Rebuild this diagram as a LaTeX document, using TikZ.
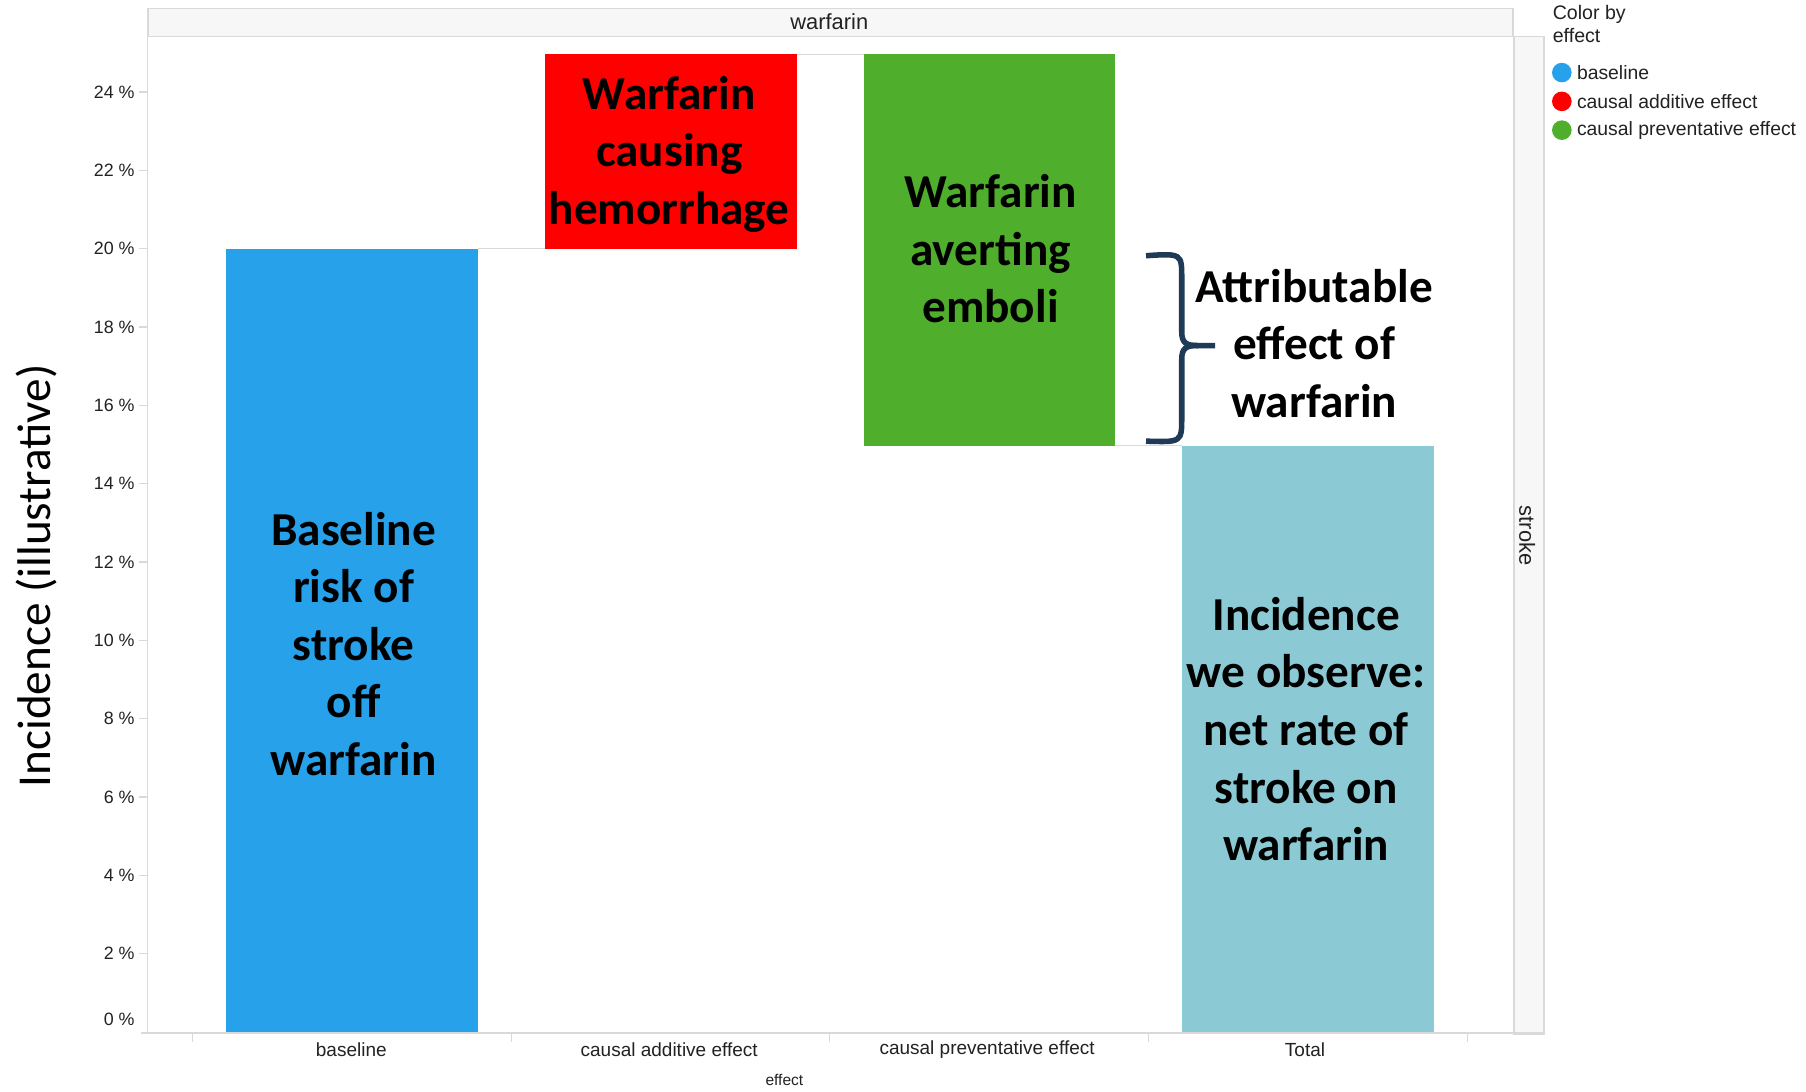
\documentclass[tikz,border=0pt]{standalone}
\usepackage{fontspec}
\setmainfont{Liberation Sans}
\newfontfamily\callabel{Carlito}
\definecolor{cblue}{HTML}{27A1EA}
\definecolor{cred}{HTML}{FF0000}
\definecolor{cgreen}{HTML}{4FAE2B}
\definecolor{cteal}{HTML}{8BCAD5}
\definecolor{cnavy}{HTML}{1F3A56}
\definecolor{cgrid}{HTML}{D9D9D9}
\definecolor{chead}{HTML}{F7F7F7}
\definecolor{ctext}{HTML}{222222}
\begin{document}
\begin{tikzpicture}[x=1pt,y=-1pt,
  bar/.style={draw=none,inner sep=0,outer sep=0,anchor=north west},
  ann/.style={font=\callabel\bfseries\fontsize{41}{50}\selectfont,align=center,text=black,inner sep=0},
  ticklab/.style={font=\fontsize{15.5}{18}\selectfont,text=ctext,anchor=east,inner sep=0},
  catlab/.style={font=\fontsize{16.5}{20}\selectfont,text=ctext,inner sep=0},
  leglab/.style={font=\fontsize{16.8}{20}\selectfont,text=ctext,anchor=west,inner sep=0},
  legdot/.style={circle,inner sep=0,minimum size=17pt},
  axisline/.style={draw=cgrid,line width=1.2pt},
  conn/.style={draw=cgrid,line width=1pt},
  brace/.style={draw=cnavy,line width=4.8pt}
]
\useasboundingbox (0,0) rectangle (1568,948);
\fill[white] (0,0) rectangle (1568,948);

% header and right strip
\node[draw=cgrid,fill=chead,line width=1.2pt,inner sep=0,minimum width=1185pt,minimum height=24pt,anchor=north west] (head) at (128,7) {};
\node[font=\fontsize{19}{22}\selectfont,text=ctext] (headtxt) at (720,19) {warfarin};
\node[draw=cgrid,fill=chead,line width=1.2pt,inner sep=0,minimum width=26pt,minimum height=866pt,anchor=north west] (strip) at (1314,31) {};
\node[font=\fontsize{19}{22}\selectfont,text=ctext,rotate=-90] (striptxt) at (1326,465) {stroke};

% axes
\draw[axisline] (128,31) -- (128,897);
\draw[axisline] (122,897) -- (1340,897);
\foreach \v/\yy in {24/80,22/148,20/216,18/284,16/352,14/420,12/488,10/556,8/624,6/692,4/760,2/828}{
  \draw[axisline] (121,\yy) -- (128,\yy);
  \node[ticklab] at (117,\yy) {\v\ \%};
}
\node[ticklab] (zero) at (117,885) {0 \%};
\foreach \xx in {167,444,720,997,1274}{
  \draw[axisline] (\xx,897) -- (\xx,905);
}

% bars
\node[bar,fill=cblue,minimum width=219pt,minimum height=680pt] (blue) at (196,216) {};
\node[bar,fill=cred,minimum width=219pt,minimum height=169pt] (red) at (473,47) {};
\node[bar,fill=cgreen,minimum width=218pt,minimum height=340pt] (green) at (750,47) {};
\node[bar,fill=cteal,minimum width=219pt,minimum height=509pt] (teal) at (1026,387) {};

% connectors
\draw[conn] (blue.north east) -- (red.south west);
\draw[conn] (red.north east) -- (green.north west);
\draw[conn] (green.south east) -- (teal.north west);

% category labels
\node[catlab] (c1) at (305,911) {baseline};
\node[catlab] (c2) at (581,911) {causal additive effect};
\node[catlab] (c3) at (857,911) {causal preventative effect};
\node[catlab] (c4) at (1133,911) {Total};
\node[font=\fontsize{13.5}{16}\selectfont,text=ctext] (xtitle) at (681,938) {effect};

% y title
\node[font=\callabel\fontsize{41}{48}\selectfont,rotate=90,text=black] (ytitle) at (32,500) {Incidence (illustrative)};

% annotations
\node[ann] (tblue) at (307,559) {Baseline\\risk of\\stroke\\off\\warfarin};
\node[ann] (tred) at (581,134) {Warfarin\\causing\\hemorrhage};
\node[ann] (tgreen) at (860,216) {Warfarin\\averting\\emboli};
\node[ann] (tattr) at (1141,298) {Attributable\\effect of\\warfarin};
\node[ann] (tteal) at (1134,633) {Incidence\\we observe:\\net rate of\\stroke on\\warfarin};

% brace
\coordinate (btop) at (995,222);
\coordinate (btip) at (1055,300);
\coordinate (bbot) at (995,383);
\draw[brace] (btop) .. controls (1026,220) .. (1026,242) -- (1026,288)
  .. controls (1026,298) and (1030,300) .. (1040,300) -- (btip);
\draw[brace] (1040,300) .. controls (1030,300) and (1026,302) .. (1026,312) -- (1026,362)
  .. controls (1026,384) .. (bbot);

% legend
\node[font=\fontsize{17}{20}\selectfont,text=ctext,anchor=north west,align=left,inner sep=0] (legtitle) at (1348,4) {Color by\\effect};
\node[legdot,fill=cblue] (d1) at (1356,63) {};
\node[leglab] (l1) at (1369,63) {baseline};
\node[legdot,fill=cred] (d2) at (1356,88) {};
\node[leglab] (l2) at (1369,88) {causal additive effect};
\node[legdot,fill=cgreen] (d3) at (1356,113) {};
\node[leglab] (l3) at (1369,113) {causal preventative effect};
\end{tikzpicture}
\end{document}
